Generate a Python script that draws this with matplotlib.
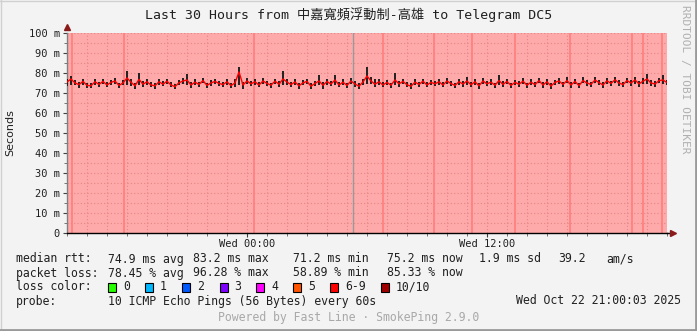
import numpy as np
import matplotlib
matplotlib.use("Agg")
import matplotlib.pyplot as plt
from matplotlib.patches import Rectangle
from matplotlib.lines import Line2D

# ---------------- data (ms, one sample every 12 minutes over 30 hours) ----------------
median_ms = [
    75.5, 77.0, 75.0, 74.2, 75.8, 73.8, 73.6, 75.6, 74.3, 75.8,
    74.0, 75.3, 76.0, 73.8, 75.0, 77.5, 75.4, 73.6, 76.8, 74.4,
    75.6, 74.0, 73.6, 75.6, 74.4, 75.9, 74.0, 73.2, 75.1, 76.0,
    76.5, 74.0, 75.4, 74.3, 76.2, 73.8, 75.0, 75.8, 74.8, 74.2,
    75.6, 73.7, 75.0, 80.5, 74.0, 76.0, 74.6, 75.6, 74.0, 76.0,
    74.8, 73.9, 75.9, 74.4, 77.0, 75.5, 74.2, 75.5, 73.6, 75.1,
    75.8, 73.4, 74.8, 76.0, 73.9, 75.7, 74.5, 76.5, 74.0, 75.4,
    73.8, 76.0, 74.5, 73.4, 75.5, 78.5, 76.0, 74.4, 75.6, 74.0,
    75.3, 73.9, 76.5, 74.6, 75.8, 74.1, 73.4, 75.4, 74.3, 75.9,
    74.0, 75.3, 74.6, 75.6, 74.0, 76.0, 74.7, 73.8, 75.6, 74.5,
    76.0, 74.1, 75.6, 73.6, 76.0, 74.6, 75.4, 73.9, 76.2, 74.3,
    75.8, 73.8, 75.3, 74.4, 75.9, 73.9, 75.4, 74.2, 76.2, 74.0,
    75.6, 73.5, 75.3, 76.0, 74.3, 76.2, 74.0, 75.8, 73.7, 76.2,
    75.0, 74.3, 76.5, 75.2, 74.0, 76.1, 74.8, 76.6, 75.0, 74.2,
    76.2, 75.0, 76.5, 74.6, 75.9, 77.0, 75.0, 74.5, 76.2, 76.5,
    75.2,
]
smoke_lo_ms = [
    73.5, 74.0, 73.8, 72.6, 74.2, 72.6, 72.4, 74.0, 73.2, 74.6,
    72.8, 74.0, 74.6, 72.5, 73.8, 74.0, 73.4, 72.2, 74.2, 73.0,
    74.2, 72.8, 72.2, 74.2, 73.4, 74.6, 72.8, 71.8, 73.8, 74.6,
    74.2, 72.6, 74.0, 73.0, 74.8, 72.6, 73.6, 74.4, 73.6, 72.8,
    74.2, 72.4, 73.2, 74.0, 72.2, 74.6, 73.4, 74.2, 72.8, 74.6,
    73.6, 72.6, 74.4, 73.2, 74.2, 74.0, 73.0, 74.0, 72.2, 73.8,
    74.4, 72.2, 73.4, 73.8, 71.8, 74.2, 73.4, 74.0, 72.8, 74.0,
    72.6, 74.6, 73.2, 72.0, 73.8, 74.4, 74.4, 73.0, 74.2, 72.8,
    74.0, 72.6, 74.2, 73.2, 74.4, 72.8, 71.8, 74.0, 73.0, 74.6,
    72.8, 74.0, 73.4, 74.2, 72.8, 74.6, 73.4, 72.4, 74.2, 73.2,
    74.0, 72.8, 74.2, 72.2, 74.6, 73.4, 74.0, 72.6, 74.2, 73.0,
    74.4, 72.4, 74.0, 73.2, 74.6, 72.6, 74.0, 72.9, 74.8, 72.6,
    74.2, 72.0, 74.0, 74.4, 73.0, 74.8, 72.6, 74.4, 72.4, 74.8,
    73.6, 73.0, 75.0, 73.8, 72.6, 74.6, 73.4, 75.0, 73.6, 72.8,
    74.8, 73.6, 74.6, 73.2, 74.6, 74.6, 73.6, 73.0, 74.8, 74.6,
    73.8,
]
smoke_hi_ms = [
    77.0, 78.5, 76.4, 75.6, 77.0, 75.0, 75.2, 77.0, 75.6, 77.2,
    75.4, 76.6, 77.4, 75.2, 76.4, 81.0, 76.8, 75.0, 80.0, 75.8,
    77.0, 75.4, 75.0, 77.0, 75.8, 77.2, 75.4, 74.6, 76.4, 77.4,
    79.5, 75.4, 76.8, 75.6, 77.6, 75.2, 76.4, 77.2, 76.2, 75.6,
    77.0, 75.0, 76.8, 83.2, 75.6, 77.4, 76.0, 77.0, 75.4, 77.4,
    76.2, 75.2, 77.2, 75.8, 81.0, 77.0, 75.6, 76.8, 75.0, 76.4,
    77.2, 74.8, 76.2, 79.0, 75.4, 77.0, 75.8, 79.0, 75.4, 76.8,
    75.2, 77.4, 75.8, 74.8, 77.0, 83.0, 77.8, 77.0, 77.0, 75.4,
    76.6, 75.2, 80.0, 76.0, 77.2, 75.4, 74.8, 76.8, 75.6, 77.2,
    75.4, 76.6, 76.0, 77.0, 75.4, 77.4, 76.0, 75.2, 77.0, 75.8,
    78.0, 75.4, 77.0, 75.0, 77.4, 76.0, 76.8, 75.2, 79.0, 75.8,
    77.2, 75.2, 76.6, 75.8, 77.4, 75.2, 76.8, 75.6, 77.6, 75.4,
    77.0, 74.8, 76.6, 77.6, 75.6, 77.8, 75.4, 77.2, 75.0, 77.8,
    76.4, 75.6, 78.0, 76.6, 75.4, 77.6, 76.2, 78.2, 76.4, 75.6,
    77.6, 76.4, 78.2, 76.0, 77.4, 79.5, 76.4, 75.8, 77.6, 79.0,
    76.6,
]
hours = np.linspace(0, 30, len(median_ms))  # 0 = Tue 15:00, 30 = Wed 21:00

loss_marks_h = [0.25, 2.85, 9.35, 15.8, 18.35, 20.25, 22.4, 25.15, 28.25, 28.8, 29.75]
gray_mark_h = [14.3]

y_ticks = [0, 10, 20, 30, 40, 50, 60, 70, 80, 90, 100]
y_labels = ["0", "10 m", "20 m", "30 m", "40 m", "50 m", "60 m", "70 m", "80 m", "90 m", "100 m"]
x_ticks = [9, 21]
x_labels = ["Wed 00:00", "Wed 12:00"]

title = "Last 30 Hours from 中嘉寬頻浮動制-高雄 to Telegram DC5"
rtt_stats = ["74.9 ms avg", "83.2 ms max", "71.2 ms min", "75.2 ms now", "1.9 ms sd", "39.2", "am/s"]
loss_stats = ["78.45 % avg", "96.28 % max", "58.89 % min", "85.33 % now"]
loss_labels = ["0", "1", "2", "3", "4", "5", "6-9", "10/10"]
loss_colors = ["#26ff00", "#00b8ff", "#0059ff", "#7e00ff", "#ff00ff", "#ff5500", "#ff0000", "#a10000"]
probe_text = "10 ICMP Echo Pings (56 Bytes) every 60s"
date_text = "Wed Oct 22 21:00:03 2025"

# ---------------- figure ----------------
W, H = 697, 331
MONO = ["DejaVu Sans Mono", "Noto Sans CJK TC"]
fig = plt.figure(figsize=(W / 100, H / 100), dpi=100)
fig.patch.set_facecolor("#f3f3f3")

def fx(px):
    return px / W

def fy(py):
    return 1 - py / H

ax = fig.add_axes([fx(67), fy(233), 600 / W, 200 / H])
ax.set_facecolor("#ffaaaa")
ax.set_xlim(0, 30)
ax.set_ylim(0, 100)

ax.set_yticks(y_ticks)
ax.set_yticklabels(y_labels, family="DejaVu Sans Mono", fontsize=7.5, color="#202020")
ax.set_yticks(np.arange(5, 100, 10), minor=True)
ax.set_xticks(x_ticks)
ax.set_xticklabels(x_labels, family="DejaVu Sans Mono", fontsize=7.5, color="#202020")
ax.set_xticks(np.arange(0, 31, 1), minor=True)
ax.tick_params(axis="both", which="major", length=3, width=0.8, color="#404040", pad=2)
ax.tick_params(axis="x", which="major", pad=1)
ax.tick_params(axis="both", which="minor", length=2, width=0.6, color="#606060")
ax.grid(True, which="both", linestyle=(0, (1, 2)), color="#e38585", linewidth=0.8)
ax.set_axisbelow(True)

for s in ["top", "right"]:
    ax.spines[s].set_visible(False)
ax.spines["left"].set_color("#808080")
ax.spines["bottom"].set_color("#000000")
ax.spines["left"].set_linewidth(1.0)
ax.spines["bottom"].set_linewidth(1.0)

# vertical marks
for h in loss_marks_h:
    ax.axvline(h, color="#ff8080", lw=1.3, zorder=1.5)
for h in gray_mark_h:
    ax.axvline(h, color="#999999", lw=1.0, zorder=1.5)

# smoke and median
ax.vlines(hours, smoke_lo_ms, smoke_hi_ms, colors="#202020", lw=1.4, zorder=3)
ax.plot(hours, median_ms, color="#ff0000", lw=1.0, zorder=4)

# axis arrows
ax.plot([0], [103], marker="^", color="#8b1a1a", markersize=4.5, clip_on=False, zorder=5)
ax.plot([30.3], [0], marker=">", color="#8b1a1a", markersize=4.5, clip_on=False, zorder=5)
ax.plot([30, 30.3], [0, 0], color="#000000", lw=1.0, clip_on=False)

# title & side texts
fig.text(0.5, fy(15), title, ha="center", va="center", family=MONO, fontsize=9.5, color="#202020")
fig.text(fx(10), fy(133), "Seconds", ha="center", va="center", rotation=90,
         family="DejaVu Sans", fontsize=8, color="#202020")
fig.text(fx(685), fy(5), "RRDTOOL / TOBI OETIKER", ha="center", va="top", rotation=270,
         family="DejaVu Sans Mono", fontsize=8, color="#b0b0b0")

# legend block
LF = dict(family="DejaVu Sans Mono", fontsize=8.3, color="#202020", va="center")
rows = [259, 273, 287, 301]
fig.text(fx(16), fy(rows[0]), "median rtt:", **LF)
for xpx, s in zip([107.6, 193.3, 293.3, 386.7, 479, 558, 606.7], rtt_stats):
    fig.text(fx(xpx), fy(rows[0]), s, **LF)
fig.text(fx(16), fy(rows[1]), "packet loss:", **LF)
for xpx, s in zip([107.6, 193.3, 293.3, 386.7], loss_stats):
    fig.text(fx(xpx), fy(rows[1]), s, **LF)
fig.text(fx(16), fy(rows[2]), "loss color:", **LF)
box_x = [108, 145, 182, 219.5, 256, 293, 330, 381]
for bx, lab, col in zip(box_x, loss_labels, loss_colors):
    fig.patches.append(Rectangle((fx(bx), fy(rows[2] + 4.5)), 8 / W, 9 / H, transform=fig.transFigure,
                                 facecolor=col, edgecolor="#000000", lw=0.8))
    fig.text(fx(bx + 15), fy(rows[2]), lab, **LF)
fig.text(fx(16), fy(rows[3]), "probe:", **LF)
fig.text(fx(108), fy(rows[3]), probe_text, **LF)
fig.text(fx(681), fy(rows[3]), date_text, ha="right", **LF)
fig.text(0.5, fy(318), "Powered by Fast Line · SmokePing 2.9.0", ha="center", va="center",
         family="DejaVu Sans Mono", fontsize=8.3, color="#a8a8a8")

# frame
fig.add_artist(Line2D([fx(0.5), fx(0.5)], [0, 1], color="#d0d0d0", lw=1, transform=fig.transFigure))
fig.add_artist(Line2D([0, 1], [fy(0.5), fy(0.5)], color="#d0d0d0", lw=1, transform=fig.transFigure))
fig.add_artist(Line2D([fx(695.5), fx(695.5)], [0, 1], color="#9a9a9a", lw=2, transform=fig.transFigure))
fig.add_artist(Line2D([0, 1], [fy(329.5), fy(329.5)], color="#9a9a9a", lw=2, transform=fig.transFigure))

fig.savefig("out.png", dpi=100, facecolor=fig.get_facecolor())
